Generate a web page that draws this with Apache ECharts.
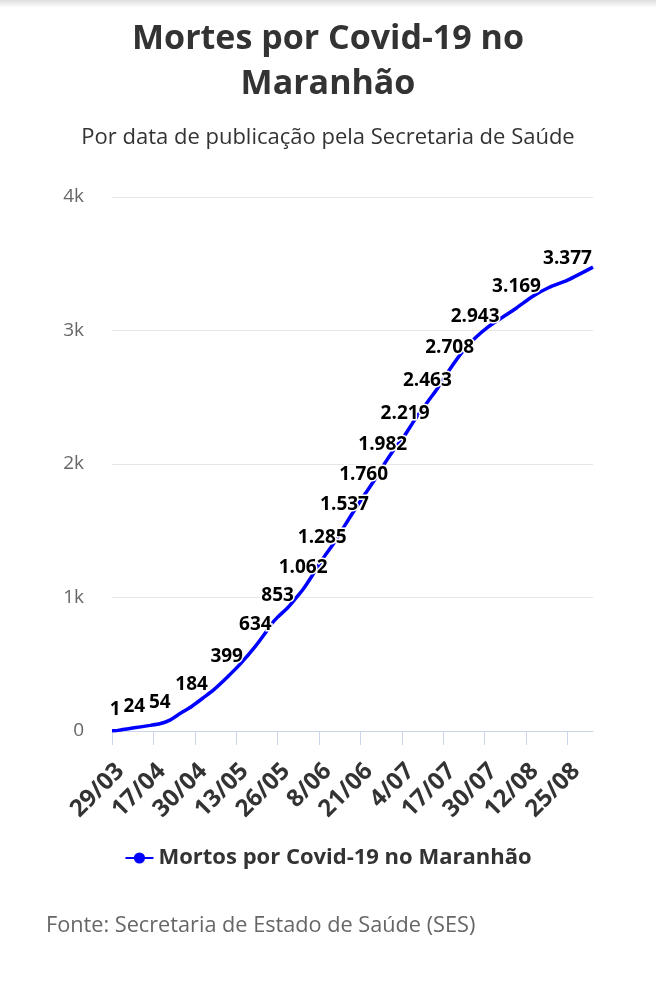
<!DOCTYPE html>
<html>
<head>
<meta charset="utf-8">
<script src="https://cdn.jsdelivr.net/npm/echarts@6/dist/echarts.min.js"></script>
<style>html,body{margin:0;padding:0;background:#fff}#c{width:656px;height:1000px}</style>
</head>
<body>
<div id="c"></div>
<script>
// Category axis dates (as shown on the source chart)
const categories = [
  "29/03","31/03",
  "2/04","4/04","6/04","8/04","10/04","11/04","12/04","13/04","14/04","15/04","16/04","17/04","18/04","19/04","20/04","21/04","22/04","23/04","24/04","25/04","26/04","27/04","28/04","29/04","30/04",
  "1/05","2/05","3/05","4/05","5/05","6/05","7/05","8/05","9/05","10/05","11/05","12/05","13/05","14/05","15/05","16/05","17/05","18/05","19/05","20/05","21/05","22/05","23/05","24/05","25/05","26/05","27/05","28/05","29/05","30/05","31/05",
  "1/06","2/06","3/06","4/06","5/06","6/06","7/06","8/06","9/06","10/06","11/06","12/06","13/06","14/06","15/06","16/06","17/06","18/06","19/06","20/06","21/06","22/06","23/06","24/06","25/06","26/06","27/06","28/06","29/06","30/06",
  "1/07","2/07","3/07","4/07","5/07","6/07","7/07","8/07","9/07","10/07","11/07","12/07","13/07","14/07","15/07","16/07","17/07","18/07","19/07","20/07","21/07","22/07","23/07","24/07","25/07","26/07","27/07","28/07","29/07","30/07","31/07",
  "1/08","2/08","3/08","4/08","5/08","6/08","7/08","8/08","9/08","10/08","11/08","12/08","13/08","14/08","15/08","16/08","17/08","18/08","19/08","20/08","21/08","22/08","23/08","24/08","25/08","26/08","27/08","28/08","29/08","30/08","31/08",
  "1/09","2/09"
];

// Points
const pointDates = ["29/03","31/03","4/04","11/04","16/04","19/04","22/04","25/04","29/04","3/05","6/05","10/05","14/05","19/05","22/05","24/05","26/05","29/05","31/05","3/06","6/06","9/06","13/06","16/06","19/06","22/06","25/06","28/06","1/07","5/07","8/07","12/07","15/07","19/07","23/07","27/07","31/07","4/08","9/08","14/08","19/08","25/08","2/09"];
const pointValues = [1,1,10,24,42,54,80,125,184,255,310,399,495,634,730,800,853,920,975,1062,1170,1285,1420,1537,1650,1760,1865,1982,2090,2219,2330,2463,2560,2708,2840,2943,3025,3090,3169,3255,3320,3377,3475];
// Points that carry a value label
const labeledDates = ["31/03","11/04","19/04","29/04","10/05","19/05","26/05","3/06","9/06","16/06","22/06","28/06","5/07","12/07","19/07","27/07","9/08","25/08"];

const yTicks = [0,1000,2000,3000,4000];
const yTickLabels = ["0","1k","2k","3k","4k"];

function fmt(n){ return String(n).replace(/\B(?=(\d{3})+(?!\d))/g, "."); }

const seriesData = pointDates.map((d,i)=>({
  value:[d, pointValues[i]],
  label:{show: labeledDates.indexOf(d) >= 0}
}));

const chart = echarts.init(document.getElementById('c'));
const FONT = "'Open Sans', sans-serif";
chart.setOption({
  backgroundColor:'#fff',
  animation:false,
  graphic:[{
    type:'rect', left:0, top:0, shape:{width:656, height:8},
    style:{fill:new echarts.graphic.LinearGradient(0,0,0,1,[{offset:0,color:'rgba(0,0,0,0.13)'},{offset:1,color:'rgba(0,0,0,0)'}])}
  }],
  title:[
    {text:"Mortes por Covid-19 no\nMaranhão", left:'center', top:12,
     textStyle:{fontFamily:FONT, fontSize:34, fontWeight:'bold', color:'#333', lineHeight:45}},
    {text:"Por data de publicação pela Secretaria de Saúde", left:'center', top:120,
     textStyle:{fontFamily:FONT, fontSize:22, fontWeight:'normal', color:'#333', lineHeight:26}},
    {text:"Fonte: Secretaria de Estado de Saúde (SES)", left:41, top:908,
     textStyle:{fontFamily:FONT, fontSize:21.7, fontWeight:'normal', color:'#666', lineHeight:26}}
  ],
  legend:{
    top:842, left:'center', itemWidth:28, itemHeight:14, itemGap:10,
    textStyle:{fontFamily:FONT, fontSize:22, fontWeight:'bold', color:'#333'},
    data:["Mortos por Covid-19 no Maranhão"]
  },
  grid:{left:112, right:63, top:197, bottom:269, containLabel:false},
  xAxis:{
    type:'category', data:categories, boundaryGap:false,
    axisLine:{lineStyle:{color:'#ccd6eb', width:1}},
    axisTick:{show:true, interval:12, length:14, lineStyle:{color:'#ccd6eb'}},
    axisLabel:{interval:12, rotate:45, fontFamily:FONT, fontSize:24, fontWeight:'bold', color:'#333',
      margin:28, align:'right', verticalAlign:'top'},
    splitLine:{show:false}
  },
  yAxis:{
    type:'value', min:0, max:4000, interval:1000,
    axisLine:{show:false}, axisTick:{show:false},
    axisLabel:{fontFamily:FONT, fontSize:19, color:'#666', margin:28,
      formatter:v=>{const i=yTicks.indexOf(v); return i>=0?yTickLabels[i]:'';}},
    splitLine:{lineStyle:{color:'#e6e6e6', width:1}}
  },
  series:[{
    name:"Mortos por Covid-19 no Maranhão",
    type:'line', data:seriesData, smooth:0.25,
    symbol:'circle', symbolSize:0, showSymbol:true, showAllSymbol:true,
    lineStyle:{color:'#0000ff', width:3.5},
    itemStyle:{color:'#0000ff'},
    label:{show:false, position:'top', distance:12,
      fontFamily:FONT, fontSize:19, fontWeight:'bold', color:'#000',
      textBorderColor:'#fff', textBorderWidth:3,
      formatter:p=>fmt(p.value[1])},
    labelLayout:{hideOverlap:false}
  }]
});
</script>
</body>
</html>
